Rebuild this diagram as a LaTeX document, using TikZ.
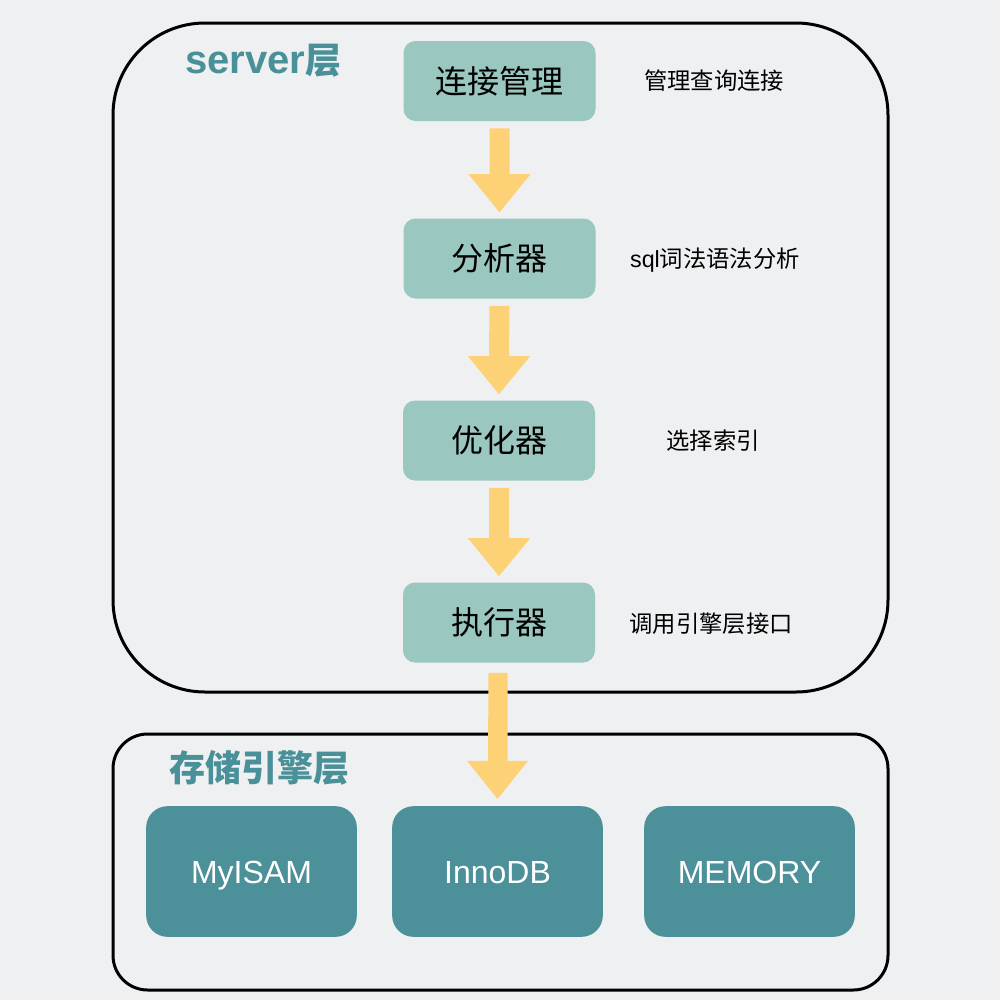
\documentclass[tikz,border=0pt]{standalone}
\usepackage{fontspec}
\setmainfont{Noto Sans CJK SC}
\newfontfamily\lat{Liberation Sans}
\usetikzlibrary{calc}
\definecolor{bgc}{HTML}{EFF0F2}
\definecolor{stepc}{HTML}{9AC7BF}
\definecolor{engc}{HTML}{4C9099}
\definecolor{titlec}{HTML}{4A9099}
\definecolor{arrc}{HTML}{FDD276}
\tikzset{
  layerbox/.style={draw=black, line width=2.25pt},
  stepbox/.style={rectangle, fill=stepc, rounded corners=9pt, minimum width=144pt, minimum height=60pt, inner sep=0pt, font=\fontsize{24pt}{28pt}\selectfont},
  engbox/.style={rectangle, fill=engc, rounded corners=16pt, minimum width=158pt, minimum height=98pt, inner sep=0pt, text height=17.5pt, text depth=0pt, text=white, font=\lat\fontsize{24pt}{28pt}\selectfont},
  sidelabel/.style={inner sep=0pt, font=\fontsize{17.5pt}{21pt}\selectfont},
  layertitle/.style={inner sep=0pt, text=titlec, font=\bfseries\fontsize{27pt}{32pt}\selectfont},
}
\begin{document}
\begin{tikzpicture}[x=0.75pt, y=-0.75pt]
\useasboundingbox (0,0) rectangle (1000,1000);
\fill[bgc] (0,0) rectangle (1000,1000);
% layer frames
\draw[layerbox, rounded corners=69pt] (113,23) rectangle (888,692);
\draw[layerbox, rounded corners=26pt] (113,734) rectangle (888,990);
% titles
\node[layertitle] (servertitle) at (263.5,61) {{\lat\bfseries\fontsize{30pt}{34pt}\selectfont server}层};
\node[layertitle] (enginetitle) at (259,768) {存储引擎层};
% steps
\node[stepbox] (conn) at (499.5,81) {连接管理};
\node[stepbox] (ana) at (499.5,258.5) {分析器};
\node[stepbox] (opt) at (499,440.5) {优化器};
\node[stepbox] (exe) at (499,622.5) {执行器};
% side labels
\node[sidelabel] (l1) at (714,81) {管理查询连接};
\node[sidelabel] (l2) at (715,260) {{\lat sql}词法语法分析};
\node[sidelabel] (l3) at (713,441) {选择索引};
\node[sidelabel] (l4) at (711,624) {调用引擎层接口};
% engines
\node[engbox] (myisam) at (251.5,871.5) {MyISAM};
\node[engbox] (innodb) at (497.5,871.5) {InnoDB};
\node[engbox] (memory) at (749.5,871.5) {MEMORY};
% block arrows
\foreach \a/\b in {conn/ana, ana/opt, opt/exe}{
  \fill[arrc] ($(\a.south)+(-10,7)$) -- ($(\a.south)+(10,7)$)
    -- ($(\b.north)+(10,-44)$) -- ($(\b.north)+(31,-44)$)
    -- ($(\b.north)+(0,-6)$) -- ($(\b.north)+(-31,-44)$)
    -- ($(\b.north)+(-10,-44)$) -- cycle;
}
\fill[arrc] ($(exe.south)+(-10.5,10)$) -- ($(exe.south)+(8.5,10)$)
  -- ($(innodb.north)+(10,-45)$) -- ($(innodb.north)+(30.5,-45)$)
  -- ($(innodb.north)+(0,-7)$) -- ($(innodb.north)+(-30.5,-45)$)
  -- ($(innodb.north)+(-9.5,-45)$) -- cycle;
\end{tikzpicture}
\end{document}
